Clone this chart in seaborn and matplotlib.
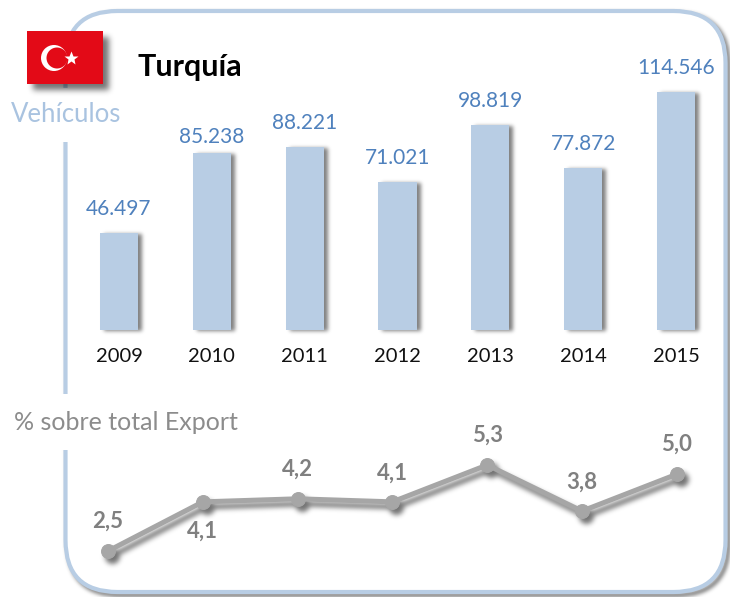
import matplotlib
matplotlib.use('Agg')
import matplotlib.pyplot as plt
from matplotlib.patches import FancyBboxPatch, Rectangle, Circle
import numpy as np
import pandas as pd
import seaborn as sns

years = ['2009', '2010', '2011', '2012', '2013', '2014', '2015']
vehicles = [46497, 85238, 88221, 71021, 98819, 77872, 114546]
vehicle_labels = ['46.497', '85.238', '88.221', '71.021', '98.819', '77.872', '114.546']
vehicle_offsets = [14, 6, 14, 14, 14, 14, 14]
share = [2.5, 4.1, 4.2, 4.1, 5.3, 3.8, 5.0]
share_labels = ['2,5', '4,1', '4,2', '4,1', '5,3', '3,8', '5,0']
share_offsets = [30, -29, 30, 29, 30, 29, 30]

W, H = 730, 597
BLUE = '#b8cde4'
GREY = '#a6a6a6'

sns.set_style('white')
plt.rcParams['font.family'] = ['Lato', 'DejaVu Sans']


def shadow(dx, dy, sigma, alpha):
    # agg filter: blurred, shifted copy of whatever artist it is set on
    pad = int(sigma * 3)
    xs = np.arange(-pad, pad + 1)
    kernel = np.exp(-xs ** 2 / (2 * sigma ** 2))
    kernel = kernel / kernel.sum()

    def process(im, dpi):
        a = np.pad(im[:, :, 3], pad)
        a = np.apply_along_axis(np.convolve, 0, a, kernel, mode='same')
        a = np.apply_along_axis(np.convolve, 1, a, kernel, mode='same')
        out = np.zeros(a.shape + (4,))
        out[:, :, 3] = a * alpha
        return out, dx - pad, -dy - pad

    return process


def axes_px(fig, left, top, right, bottom):
    return fig.add_axes([left / W, 1 - bottom / H, (right - left) / W, (bottom - top) / H])


fig = plt.figure(figsize=(7.3, 5.97), dpi=100)

# page layer: frame, gaps for the headings, flag
bg = fig.add_axes([0, 0, 1, 1], zorder=0)
bg.set_xlim(0, W)
bg.set_ylim(H, 0)
bg.axis('off')
frame_shadow = FancyBboxPatch((65.5, 11), 660, 581, boxstyle='round,pad=0,rounding_size=52',
                              fc='none', ec='black', lw=3.0, agg_filter=shadow(3, 3, 2, 0.55))
bg.add_patch(frame_shadow)
frame = FancyBboxPatch((65.5, 11), 660, 581, boxstyle='round,pad=0,rounding_size=52',
                       fc='white', ec=BLUE, lw=3.0)
bg.add_patch(frame)
bg.add_patch(Rectangle((55, 88), 22, 54, fc='white', ec='none'))
bg.add_patch(Rectangle((55, 394), 22, 56, fc='white', ec='none'))

bg.add_patch(Rectangle((27, 31), 76, 53, fc='black', ec='none', agg_filter=shadow(6, 6, 3, 0.55)))
bg.add_patch(Rectangle((27, 31), 76, 53, fc='#e30a17', ec='none'))
bg.add_patch(Circle((54, 58), 13, fc='white', ec='none'))
bg.add_patch(Circle((57, 58), 10.5, fc='#e30a17', ec='none'))
bg.plot([70.5], [58], marker='*', ms=10, color='white', mec='none')

bg.text(137, 67, 'Turquía', fontsize=22, fontweight='bold', color='black', va='center', ha='left')
bg.text(11, 115, 'Vehículos', fontsize=18.5, color='#a9c3e0', va='center', ha='left')
bg.text(14, 422, '% sobre total Export', fontsize=18, color='#8c8c8c', va='center', ha='left')

# bars
ax = axes_px(fig, 72.6, 92, 722.4, 330)
ax.set_zorder(1)
ax.patch.set_alpha(0)
df = pd.DataFrame({'year': years, 'vehicles': vehicles})
sns.barplot(data=df, x='year', y='vehicles', color=BLUE, saturation=1, width=0.41, linewidth=0, ax=ax)
for bar in list(ax.patches):
    bar.set_zorder(3)
    ax.add_patch(Rectangle(bar.get_xy(), bar.get_width(), bar.get_height(), fc='black', ec='none', zorder=2,
                           clip_on=False, agg_filter=shadow(4, 1, 2, 0.5)))
ax.set_xlim(-0.5, 6.5)
ax.set_ylim(0, 114546)
ax.set_xlabel('')
ax.set_ylabel('')
ax.set_yticks([])
ax.tick_params(axis='x', length=0, pad=13, labelsize=14.5, labelcolor='#111111')
sns.despine(ax=ax, left=True, bottom=True)
for i, label in enumerate(vehicle_labels):
    ax.annotate(label, (i, vehicles[i]), xytext=(0, vehicle_offsets[i]), textcoords='offset pixels',
                ha='center', va='bottom', fontsize=15, color='#4f81bd', annotation_clip=False)

# share line, its categories sit on a slightly wider spacing than the bars
ax2 = axes_px(fig, 60.6, 465, 724.2, 551)
ax2.set_zorder(2)
ax2.patch.set_alpha(0)
df2 = pd.DataFrame({'x': range(len(years)), 'share': share})
sns.lineplot(data=df2, x='x', y='share', color='black', lw=3.6, marker='o', ms=10, mec='black',
             ax=ax2, clip_on=False, agg_filter=shadow(4, 5, 2.5, 0.55), zorder=2)
sns.lineplot(data=df2, x='x', y='share', color=GREY, lw=3.6, marker='o', ms=10, mec=GREY,
             ax=ax2, clip_on=False, zorder=3)
ax2.set_xlim(-0.5, 6.5)
ax2.set_ylim(2.5, 5.3)
ax2.axis('off')
for i, label in enumerate(share_labels):
    ax2.annotate(label, (i, share[i]), xytext=(0, share_offsets[i]), textcoords='offset pixels',
                 ha='center', va='center', fontsize=16, fontweight='bold', color='#808080',
                 annotation_clip=False)

fig.savefig('out.png', dpi=100)
